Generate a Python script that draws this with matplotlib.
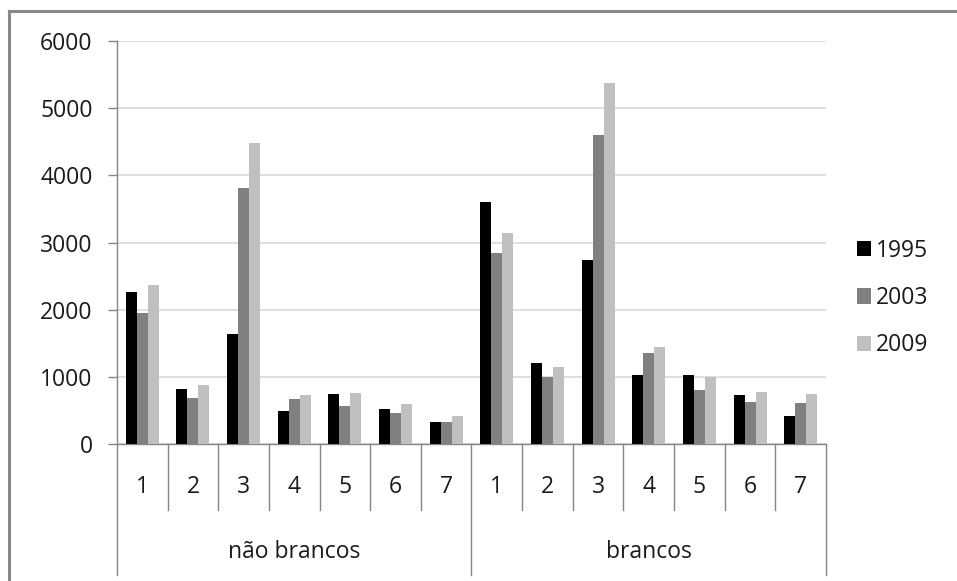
import matplotlib
matplotlib.use("Agg")
import matplotlib.pyplot as plt
from matplotlib.lines import Line2D
import numpy as np

plt.rcParams['font.family'] = ['Open Sans', 'DejaVu Sans']

groups = ["não brancos", "brancos"]
cats = ["1", "2", "3", "4", "5", "6", "7"]
years = ["1995", "2003", "2009"]
colors = ["#000000", "#808080", "#c0c0c0"]

# valores (nao brancos 1..7, brancos 1..7)
v1995 = [2260, 820, 1640, 490, 745, 520, 330, 3600, 1205, 2745, 1030, 1030, 730, 420]
v2003 = [1950, 685, 3810, 670, 565, 460, 330, 2840, 1000, 4600, 1355, 805, 625, 610]
v2009 = [2370, 880, 4475, 730, 760, 595, 420, 3140, 1145, 5370, 1445, 1000, 775, 745]
series = [v1995, v2003, v2009]

W, H = 957, 581
fig = plt.figure(figsize=(W / 100, H / 100), dpi=100)
ax = fig.add_axes([117 / W, 1 - 444 / H, (826 - 117) / W, (444 - 41) / H])

n = len(groups) * len(cats)
x = np.arange(n)
bw = 0.217
handles = []
for i, vals in enumerate(series):
    b = ax.bar(x + (i - 1) * bw, vals, bw, color=colors[i], label=years[i], zorder=3)
    handles.append(b)

ax.set_xlim(-0.5, n - 0.5)
ax.set_ylim(0, 6000)
ax.set_yticks(range(0, 6001, 1000))
ax.yaxis.grid(True, color="#d9d9d9", linewidth=1.2, zorder=0)
ax.set_xticks([])
ax.tick_params(axis="y", direction="out", length=6.5, width=1, color="#868686",
               pad=11, labelsize=16.5, labelcolor="#1a1a1a")
for s in ["top", "right"]:
    ax.spines[s].set_visible(False)
for s in ["left", "bottom"]:
    ax.spines[s].set_color("#868686")
    ax.spines[s].set_linewidth(1)

# eixo de categorias em dois niveis
tr = ax.get_xaxis_transform()
ncat = len(cats)
for k in range(n + 1):
    edge = k - 0.5
    bottom = -0.325 if k % ncat == 0 else -0.164
    ax.plot([edge, edge], [0, bottom], color="#868686", lw=1, transform=tr, clip_on=False)
for k in range(n):
    ax.text(k, -0.107, cats[k % ncat], transform=tr, ha="center", va="center",
            fontsize=16.5, color="#1a1a1a")
for g, name in enumerate(groups):
    ax.text(g * ncat + (ncat - 1) / 2, -0.268, name, transform=tr, ha="center",
            va="center", fontsize=16.5, color="#1a1a1a")

ax.legend(handles=handles, loc="center left", bbox_to_anchor=(0.895, 0.487),
          bbox_transform=fig.transFigure, frameon=False, fontsize=16.5,
          handlelength=0.65, handleheight=0.65, handletextpad=0.2,
          labelspacing=1.02, borderpad=0, borderaxespad=0, labelcolor="#1a1a1a")

# moldura do grafico
fig.add_artist(Line2D([9 / W, 9 / W], [0, 1 - 11 / H], color="#878787", lw=2.2))
fig.add_artist(Line2D([9 / W, 1], [1 - 11 / H, 1 - 11 / H], color="#878787", lw=2.2))

fig.savefig("out.png", dpi=100)
